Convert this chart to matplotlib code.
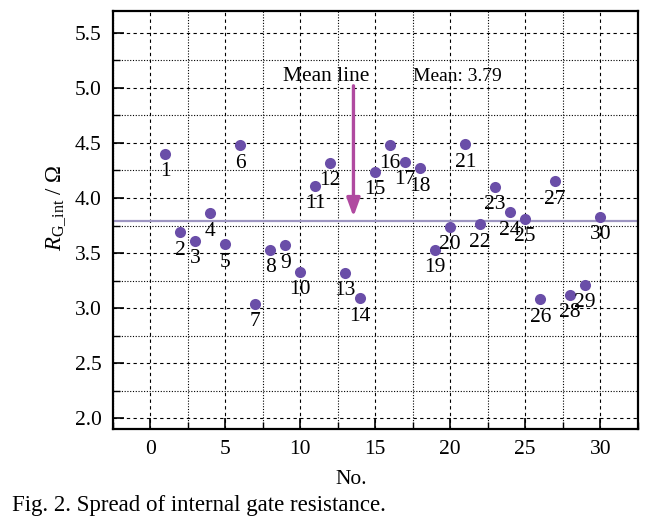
import numpy as np
import matplotlib
matplotlib.use('Agg')
import matplotlib.pyplot as plt
from matplotlib.ticker import MultipleLocator

# device number and internal gate resistance
dev_no = [1, 2, 3, 4, 5, 6, 7, 8, 9, 10,
          11, 12, 13, 14, 15, 16, 17, 18, 19, 20,
          21, 22, 23, 24, 25, 26, 27, 28, 29, 30]
r_g_int = [4.40, 3.69, 3.61, 3.86, 3.58, 4.48, 3.04, 3.53, 3.57, 3.33,
           4.11, 4.32, 3.32, 3.09, 4.24, 4.48, 4.33, 4.27, 3.53, 3.74,
           4.49, 3.76, 4.10, 3.87, 3.81, 3.08, 4.15, 3.12, 3.21, 3.83]
mean_val = 3.79

plt.rcParams['font.family'] = ['Liberation Serif', 'DejaVu Serif']
plt.rcParams['mathtext.fontset'] = 'custom'
plt.rcParams['mathtext.rm'] = 'Liberation Serif'
plt.rcParams['mathtext.it'] = 'Liberation Serif:italic'

fig = plt.figure(figsize=(6.59, 5.23), dpi=100)
ax = fig.add_axes([0.171, 0.1797, 0.7967, 0.7993])

ax.set_xlim(-2.5, 32.5)
ax.set_ylim(1.9, 5.7)
ax.xaxis.set_major_locator(MultipleLocator(5))
ax.xaxis.set_minor_locator(MultipleLocator(2.5))
ax.yaxis.set_major_locator(MultipleLocator(0.5))
ax.yaxis.set_minor_locator(MultipleLocator(0.25))
ax.yaxis.set_major_formatter(matplotlib.ticker.FormatStrFormatter('%.1f'))

ax.grid(which='major', color='black', linestyle=(0, (3, 3)), linewidth=0.8)
ax.grid(which='minor', color='black', linestyle=(0, (1, 1.5)), linewidth=0.8)
ax.set_axisbelow(True)

ax.tick_params(which='major', direction='in', length=8, width=1.2, labelsize=15.5, pad=8)
ax.tick_params(which='minor', direction='in', length=5, width=1.0)
for s in ax.spines.values():
    s.set_linewidth(1.6)

# mean line
ax.axhline(mean_val, color='#9d95c1', linewidth=1.6, zorder=2)

ax.scatter(dev_no, r_g_int, s=64, color='#6a4ea8', zorder=3, linewidths=0)

for n, r in zip(dev_no, r_g_int):
    ax.annotate(str(n), (n, r), xytext=(0, -18), textcoords='offset pixels',
                ha='center', va='center', fontsize=15.5, zorder=4)

ax.annotate('', xy=(13.55, 3.83), xytext=(13.55, 5.02),
            arrowprops=dict(arrowstyle='-|>,head_length=1.1,head_width=0.4',
                            color='#b04aa0', linewidth=2.4, shrinkA=0, shrinkB=0),
            zorder=5)
ax.text(11.72, 5.1, 'Mean line', ha='center', va='center', fontsize=15.5)
ax.text(17.55, 5.1, 'Mean: %.2f' % mean_val, ha='left', va='center', fontsize=14)

ax.set_xlabel('No.', fontsize=15.5)
ax.xaxis.set_label_coords(0.455, -0.098)
ax.set_ylabel(r'$R_{\mathrm{G\_int}}$ / Ω', fontsize=16.5)
ax.yaxis.set_label_coords(-0.085, 0.53)

fig.text(11.7 / 659, 1 - 511 / 523, 'Fig. 2. Spread of internal gate resistance.',
         ha='left', va='baseline', fontsize=16.5)

fig.savefig('out.png', dpi=100)
